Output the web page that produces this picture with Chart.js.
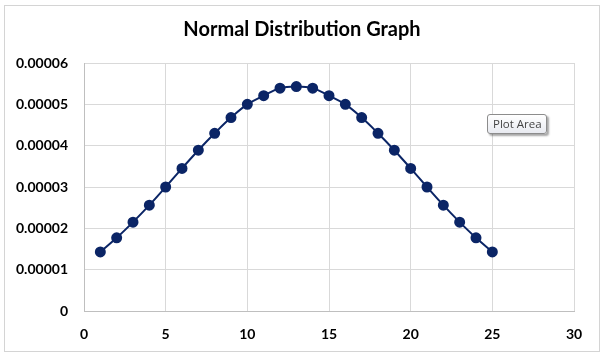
<!DOCTYPE html>
<html>
<head>
<meta charset="utf-8">
<script src="https://cdn.jsdelivr.net/npm/chart.js@4/dist/chart.umd.min.js"></script>
<style>
    html, body { margin: 0; padding: 0; background: #ffffff; }
    #wrap { position: relative; width: 607px; height: 357px; overflow: hidden; }
    #frame {
        position: absolute; left: 4px; top: 5px; width: 596px; height: 347px;
        border: 1px solid #d4d4d4; box-sizing: border-box; pointer-events: none;
    }
    #chart { position: absolute; left: 0; top: 0; }
    #tip {
        position: absolute; left: 487px; top: 114px; padding: 1px 4px 2px 5px;
        font: 11.5px "Open Sans", sans-serif; color: #444;
        background: linear-gradient(#ffffff, #e8eaf0);
        border: 1px solid #8c8c8c; border-radius: 3px;
        box-shadow: 2px 2px 2px rgba(0, 0, 0, 0.35);
    }
</style>
</head>
<body>
<div id="wrap">
    <canvas id="chart" width="607" height="357"></canvas>
    <div id="frame"></div>
    <div id="tip">Plot Area</div>
</div>
<script>
const xValues = [1, 2, 3, 4, 5, 6, 7, 8, 9, 10, 11, 12, 13, 14, 15, 16, 17, 18, 19, 20, 21, 22, 23, 24, 25];
const yValues = [
    0.0000143, 0.0000177, 0.0000215, 0.0000256, 0.0000300, 0.0000345, 0.0000389, 0.0000430, 0.0000468,
    0.0000500, 0.0000521, 0.0000539, 0.0000543, 0.0000539, 0.0000521, 0.0000500, 0.0000468, 0.0000430,
    0.0000389, 0.0000345, 0.0000300, 0.0000256, 0.0000215, 0.0000177, 0.0000143,
];
const chartTitle = "Normal Distribution Graph";

const lineColor = "#0b2566";
const gridColor = "#d9d9d9";
const fontFamily = "Lato, 'Open Sans', sans-serif";
const labelFont = { family: fontFamily, size: 14, weight: "bold" };

const points = xValues.map((x, i) => ({ x, y: yValues[i] }));

// Excel centres the title over the whole chart box, not the plot area
const titlePlugin = {
    id: "boxTitle",
    afterDraw: (chart) => {
        const ctx = chart.ctx;
        ctx.save();
        ctx.font = `bold 20px ${fontFamily}`;
        ctx.fillStyle = "#000000";
        ctx.textAlign = "center";
        ctx.textBaseline = "middle";
        ctx.fillText(chartTitle, 302, 30);
        ctx.restore();
    },
};

new Chart(document.getElementById("chart").getContext("2d"), {
    type: "scatter",
    data: {
        datasets: [{
            data: points,
            showLine: true,
            borderColor: lineColor,
            backgroundColor: lineColor,
            borderWidth: 2,
            tension: 0.4,
            pointRadius: 4.5,
            pointHoverRadius: 4.5,
        }],
    },
    options: {
        responsive: false,
        animation: false,
        layout: { padding: { left: 0, right: 33, top: 63, bottom: 0 } },
        plugins: {
            legend: { display: false },
            tooltip: { enabled: false },
            title: { display: false },
        },
        scales: {
            x: {
                type: "linear",
                min: 0,
                max: 30,
                ticks: { stepSize: 5, color: "#000000", font: labelFont, padding: 15 },
                grid: { color: gridColor, drawTicks: false },
                border: { color: "#bfbfbf" },
                afterFit: (scale) => { scale.height = 46; },
            },
            y: {
                min: 0,
                max: 0.00006,
                ticks: {
                    stepSize: 0.00001,
                    color: "#000000",
                    font: labelFont,
                    padding: 16,
                    callback: (value) => {
                        const v = Math.round(value * 1e5) / 1e5;
                        return v === 0 ? "0" : v.toFixed(5);
                    },
                },
                grid: { color: gridColor, drawTicks: false },
                border: { color: "#bfbfbf" },
                afterFit: (scale) => { scale.width = 84; },
            },
        },
    },
    plugins: [titlePlugin],
});
</script>
</body>
</html>
